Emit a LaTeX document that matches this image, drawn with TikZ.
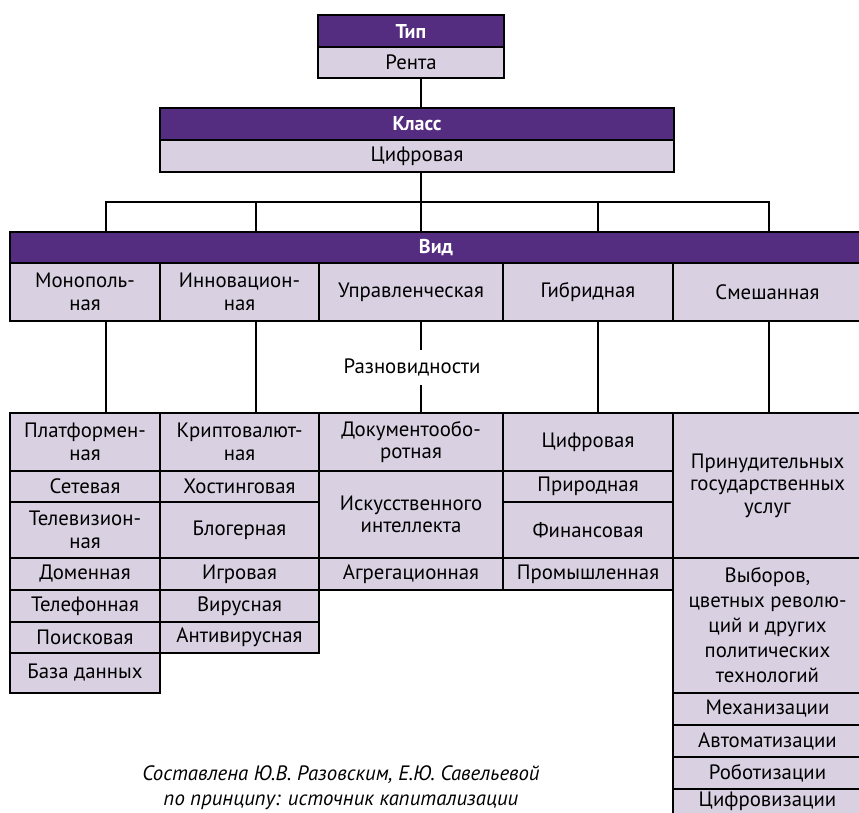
\documentclass[tikz,border=0pt]{standalone}
\usepackage{fontspec}
\setmainfont{PT Sans}
\usepackage{tikz}
\usetikzlibrary{positioning}

\definecolor{headpurple}{RGB}{84,44,128}
\definecolor{celllilac}{RGB}{217,209,226}

\tikzset{
  head/.style={draw, line width=2.5pt, fill=headpurple, text=white, font=\fontsize{20}{22}\selectfont\bfseries, inner sep=0pt},
  cell/.style={draw, line width=2.5pt, fill=celllilac, inner sep=0pt, align=center},
  link/.style={line width=2.5pt},
}

\begin{document}
\begin{tikzpicture}[x=1pt, y=-1pt, font=\fontsize{20.8}{22.5}\selectfont]
\useasboundingbox (0,0) rectangle (859,812);
\clip (0,0) rectangle (859,812);

\node[head, minimum width=186, minimum height=32] (tiphead) at (411,31) {Тип};
\node[cell, minimum width=186, minimum height=31] (tipbody) at (411,62.5) {Рента};
\node[head, minimum width=514, minimum height=32] (klasshead) at (417,124) {Класс};
\node[cell, minimum width=514, minimum height=32] (klassbody) at (417,156) {Цифровая};

\node[head, minimum width=852, minimum height=31] (vidhead) at (436,247.5) {Вид};
\begin{scope}[every node/.style={cell, minimum height=58}]
    \node[minimum width=150] (mono)  at (85,292)    {Монополь-\\ная};
    \node[minimum width=159] (innov) at (239.5,292) {Инновацион-\\ная};
    \node[minimum width=184] (upr)   at (411,292)   {Управленческая};
    \node[minimum width=170] (gibr)  at (588,292)   {Гибридная};
    \node[minimum width=189] (smesh) at (767.5,292) {Смешанная};
\end{scope}

\node[inner sep=0pt, minimum height=35] (razn) at (412,367.5) {Разновидности};

% monopolnaya
\begin{scope}[every node/.style={cell, minimum width=150}]
    \node[minimum height=58] (plat)  at (85,442)   {Платформен-\\ная};
    \node[minimum height=31] (set)   at (85,486.5) {Сетевая};
    \node[minimum height=56] (tele)  at (85,530)   {Телевизион-\\ная};
    \node[minimum height=32] (domen) at (85,574)   {Доменная};
    \node[minimum height=32] (telef) at (85,606)   {Телефонная};
    \node[minimum height=31] (poisk) at (85,637.5) {Поисковая};
    \node[minimum height=40] (baza)  at (85,673)   {База данных};
\end{scope}

% innovacionnaya
\begin{scope}[every node/.style={cell, minimum width=159}]
    \node[minimum height=58] (kript)   at (239.5,442)   {Криптовалют-\\ная};
    \node[minimum height=31] (host)    at (239.5,486.5) {Хостинговая};
    \node[minimum height=56] (blog)    at (239.5,530)   {Блогерная};
    \node[minimum height=32] (igr)     at (239.5,574)   {Игровая};
    \node[minimum height=32] (vir)     at (239.5,606)   {Вирусная};
    \node[minimum height=31] (antivir) at (239.5,637.5) {Антивирусная};
\end{scope}

% upravlencheskaya
\begin{scope}[every node/.style={cell, minimum width=184}]
    \node[minimum height=58] (doc)   at (411,442)   {Документообо-\\ротная};
    \node[minimum height=87] (iskus) at (411,514.5) {Искусственного\\интеллекта};
    \node[minimum height=32] (agreg) at (411,574)   {Агрегационная};
\end{scope}

% gibridnaya
\begin{scope}[every node/.style={cell, minimum width=170}]
    \node[minimum height=58] (cifr) at (588,442)   {Цифровая};
    \node[minimum height=31] (prir) at (588,486.5) {Природная};
    \node[minimum height=56] (fin)  at (588,530)   {Финансовая};
    \node[minimum height=32] (prom) at (588,574)   {Промышленная};
\end{scope}

% smeshannaya
\begin{scope}[every node/.style={cell, minimum width=189}]
    \node[minimum height=145] (prin)  at (767.5,485.5) {Принудительных\\государственных\\услуг};
    \node[minimum height=135, font=\fontsize{20.8}{25}\selectfont] (vyb) at (767.5,625.5)
        {Выборов,\\цветных револю-\\ций и других\\политических\\технологий};
    \node[minimum height=32]   (mech)  at (767.5,709)    {Механизации};
    \node[minimum height=32]   (avto)  at (767.5,741)    {Автоматизации};
    \node[minimum height=32]   (robo)  at (767.5,773)    {Роботизации};
    \node[minimum height=25.5] (cifro) at (767.5,801.75) {Цифровизации};
\end{scope}

\coordinate (b1) at (106,202);
\coordinate (b2) at (256,202);
\coordinate (b3) at (421,202);
\coordinate (b4) at (598,202);
\coordinate (b5) at (769,202);

\draw[link] (tipbody.south -| b3) -- (klasshead.north -| b3);
\draw[link] (klassbody.south -| b3) -- (b3);
\draw[link] (b1 |- vidhead.north) -- (b1) -- (b5) -- (b5 |- vidhead.north);
\foreach \b in {b2,b3,b4}
    \draw[link] (\b) -- (\b |- vidhead.north);
\foreach \b/\n in {b1/plat, b2/kript, b4/cifr, b5/prin}
    \draw[link] (\b |- mono.south) -- (\b |- \n.north);
\draw[link] (b3 |- upr.south) -- (b3 |- razn.north);
\draw[link] (b3 |- razn.south) -- (b3 |- doc.north);

\node[align=center, font=\fontsize{20.8}{25}\selectfont\itshape] (source) at (341,787.5)
    {Составлена Ю.В. Разовским, Е.Ю. Савельевой\\по принципу: источник капитализации};
\end{tikzpicture}
\end{document}
